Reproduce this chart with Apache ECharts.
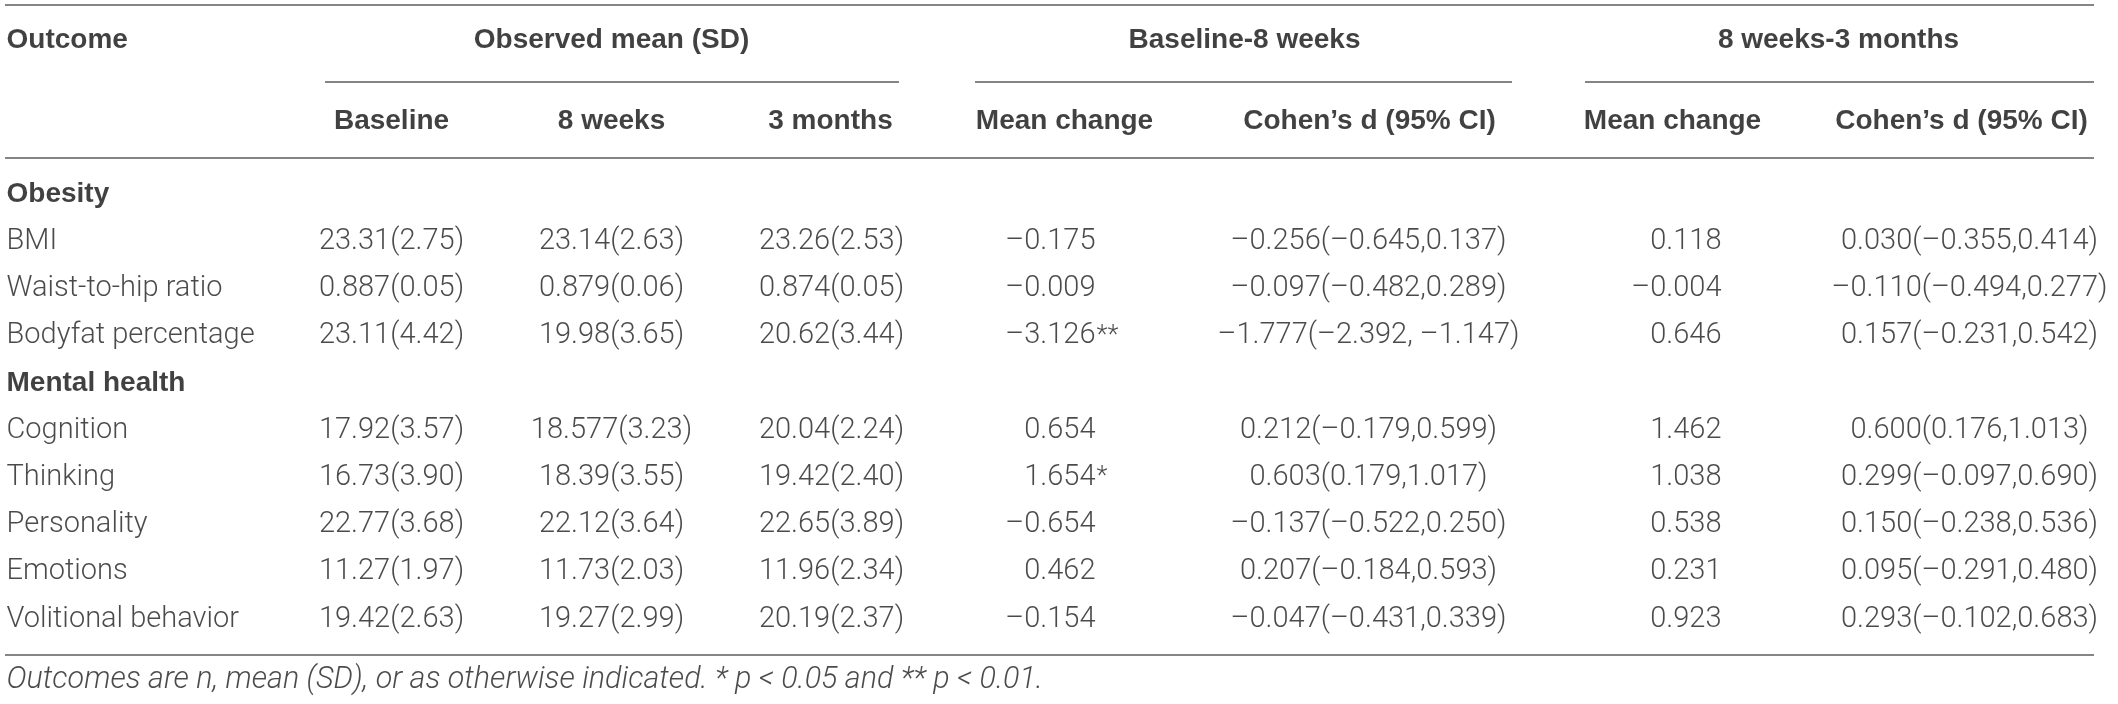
<!DOCTYPE html>
<html><head><meta charset="utf-8">
<script src="https://cdn.jsdelivr.net/npm/echarts@6/dist/echarts.min.js"></script>
<style>html,body{margin:0;padding:0;background:#fff}#c{width:2118px;height:704px}</style>
</head><body><div id="c"></div>
<script>
// ---- data ----
const outcomes = ["Obesity","BMI","Waist-to-hip ratio","Bodyfat percentage","Mental health","Cognition","Thinking","Personality","Emotions","Volitional behavior"];
const groupRows = [0,4];
const baseline = [null,"23.31(2.75)","0.887(0.05)","23.11(4.42)",null,"17.92(3.57)","16.73(3.90)","22.77(3.68)","11.27(1.97)","19.42(2.63)"];
const weeks8 = [null,"23.14(2.63)","0.879(0.06)","19.98(3.65)",null,"18.577(3.23)","18.39(3.55)","22.12(3.64)","11.73(2.03)","19.27(2.99)"];
const months3 = [null,"23.26(2.53)","0.874(0.05)","20.62(3.44)",null,"20.04(2.24)","19.42(2.40)","22.65(3.89)","11.96(2.34)","20.19(2.37)"];
const change1 = [null,"–0.175","–0.009","–3.126**",null,"0.654","1.654*","–0.654","0.462","–0.154"];
const cohen1 = [null,"–0.256(–0.645,0.137)","–0.097(–0.482,0.289)","–1.777(–2.392, –1.147)",null,"0.212(–0.179,0.599)","0.603(0.179,1.017)","–0.137(–0.522,0.250)","0.207(–0.184,0.593)","–0.047(–0.431,0.339)"];
const change2 = [null,"0.118","–0.004","0.646",null,"1.462","1.038","0.538","0.231","0.923"];
const cohen2 = [null,"0.030(–0.355,0.414)","–0.110(–0.494,0.277)","0.157(–0.231,0.542)",null,"0.600(0.176,1.013)","0.299(–0.097,0.690)","0.150(–0.238,0.536)","0.095(–0.291,0.480)","0.293(–0.102,0.683)"];
const topHeader = "Outcome";
const groupHeaders = ["Observed mean (SD)","Baseline-8 weeks","8 weeks-3 months"];
const subHeaders = ["Baseline","8 weeks","3 months","Mean change","Cohen’s d (95% CI)","Mean change","Cohen’s d (95% CI)"];
const footnote = "Outcomes are n, mean (SD), or as otherwise indicated. * p < 0.05 and ** p < 0.01.";

// ---- layout (styles / positions, not data) ----
const FONT = "Liberation Sans";
const BODY_FONT = "Roboto";
const FS = 28;
const TXT = "#1e1b1c";
const RULE = "#858585";
const L = {
  left: 7, right: 2094,
  cols: [392, 612, 832, 1096, 1369, 1722, 1970],   // column anchors
  colAlign: ["center","center","center","right","center","right","center"],
  subX: [392, 612, 831, 1065, 1370, 1673, 1962],
  groupX: [612, 1245, 1839],
  groupSpan: [[325, 899], [975, 1512], [1585, 2094]],
  yHead: -3.26, yGroupLine: -2.394, ySub: -1.55, yTop: -4.025, yHeadLine: -0.784, yBottom: 9.746, yFoot: 10.3
};
const BODY = { fontFamily: BODY_FONT, fontWeight: 300, fontSize: 29 };

function textSeries(points, opts) {
  return {
    type: 'scatter', silent: true, symbolSize: 1,
    itemStyle: { color: 'rgba(0,0,0,0)' },
    data: points.map(p => ({ value: [p[0], p[1]], name: p[2] })),
    label: Object.assign({
      show: true, position: [0, 0], formatter: d => d.name,
      fontFamily: FONT, fontSize: FS, color: TXT, textBorderWidth: 0,
      verticalAlign: 'middle', align: 'center'
    }, opts)
  };
}
function rule(x1, x2, y) {
  return { type: 'line', silent: true, symbol: 'none', data: [[x1, y], [x2, y]],
    lineStyle: { color: RULE, width: 2 }, z: 1 };
}

const series = [];
// rules
series.push(rule(L.left - 2, L.right, L.yTop));
L.groupSpan.forEach(s => series.push(rule(s[0], s[1], L.yGroupLine)));
series.push(rule(L.left - 2, L.right, L.yHeadLine));
series.push(rule(L.left - 2, L.right, L.yBottom));
// headers
series.push(textSeries([[L.left, L.yHead, topHeader]], { align: 'left', fontWeight: 'bold', color: '#111' }));
series.push(textSeries(groupHeaders.map((h, i) => [L.groupX[i], L.yHead, h]), { fontWeight: 'bold', color: '#111' }));
series.push(textSeries(subHeaders.map((h, i) => [L.subX[i], L.ySub, h]), { fontWeight: 'bold', color: '#111' }));
// row labels
series.push(textSeries(outcomes.map((o, i) => groupRows.includes(i) ? null : [L.left, i, o]).filter(Boolean), Object.assign({ align: 'left' }, BODY)));
series.push(textSeries(groupRows.map(i => [L.left, i, outcomes[i]]), { align: 'left', fontWeight: 'bold', color: '#111' }));
// value columns
const cols = [baseline, weeks8, months3, change1, cohen1, change2, cohen2];
cols.forEach((col, c) => {
  const pts = [], stars = [];
  col.forEach((v, i) => {
    if (v == null) return;
    if (L.colAlign[c] === 'right') {
      const m = v.match(/^([^*]*)(\**)$/);
      pts.push([L.cols[c], i, m[1]]);
      if (m[2]) stars.push([L.cols[c] + 1, i, m[2]]);
    } else pts.push([L.cols[c], i, v]);
  });
  series.push(textSeries(pts, Object.assign({ align: L.colAlign[c] }, BODY)));
  if (stars.length) series.push(textSeries(stars, Object.assign({}, BODY, { align: 'left', fontSize: 26 })));
});
// footnote
series.push(textSeries([[L.left, L.yFoot, footnote]], Object.assign({}, BODY, { align: 'left', fontStyle: 'italic', fontSize: 30.5 })));

const chart = echarts.init(document.getElementById('c'), null, { renderer: 'canvas' });
chart.setOption({
  animation: false,
  backgroundColor: '#fff',
  grid: { left: 0, right: 0, top: 0, bottom: 0 },
  xAxis: { type: 'value', min: 0, max: 2118, show: false },
  yAxis: { type: 'value', min: -195 / 47.2, max: (704 - 195) / 47.2, inverse: true, show: false },
  series: series
});
</script></body></html>
